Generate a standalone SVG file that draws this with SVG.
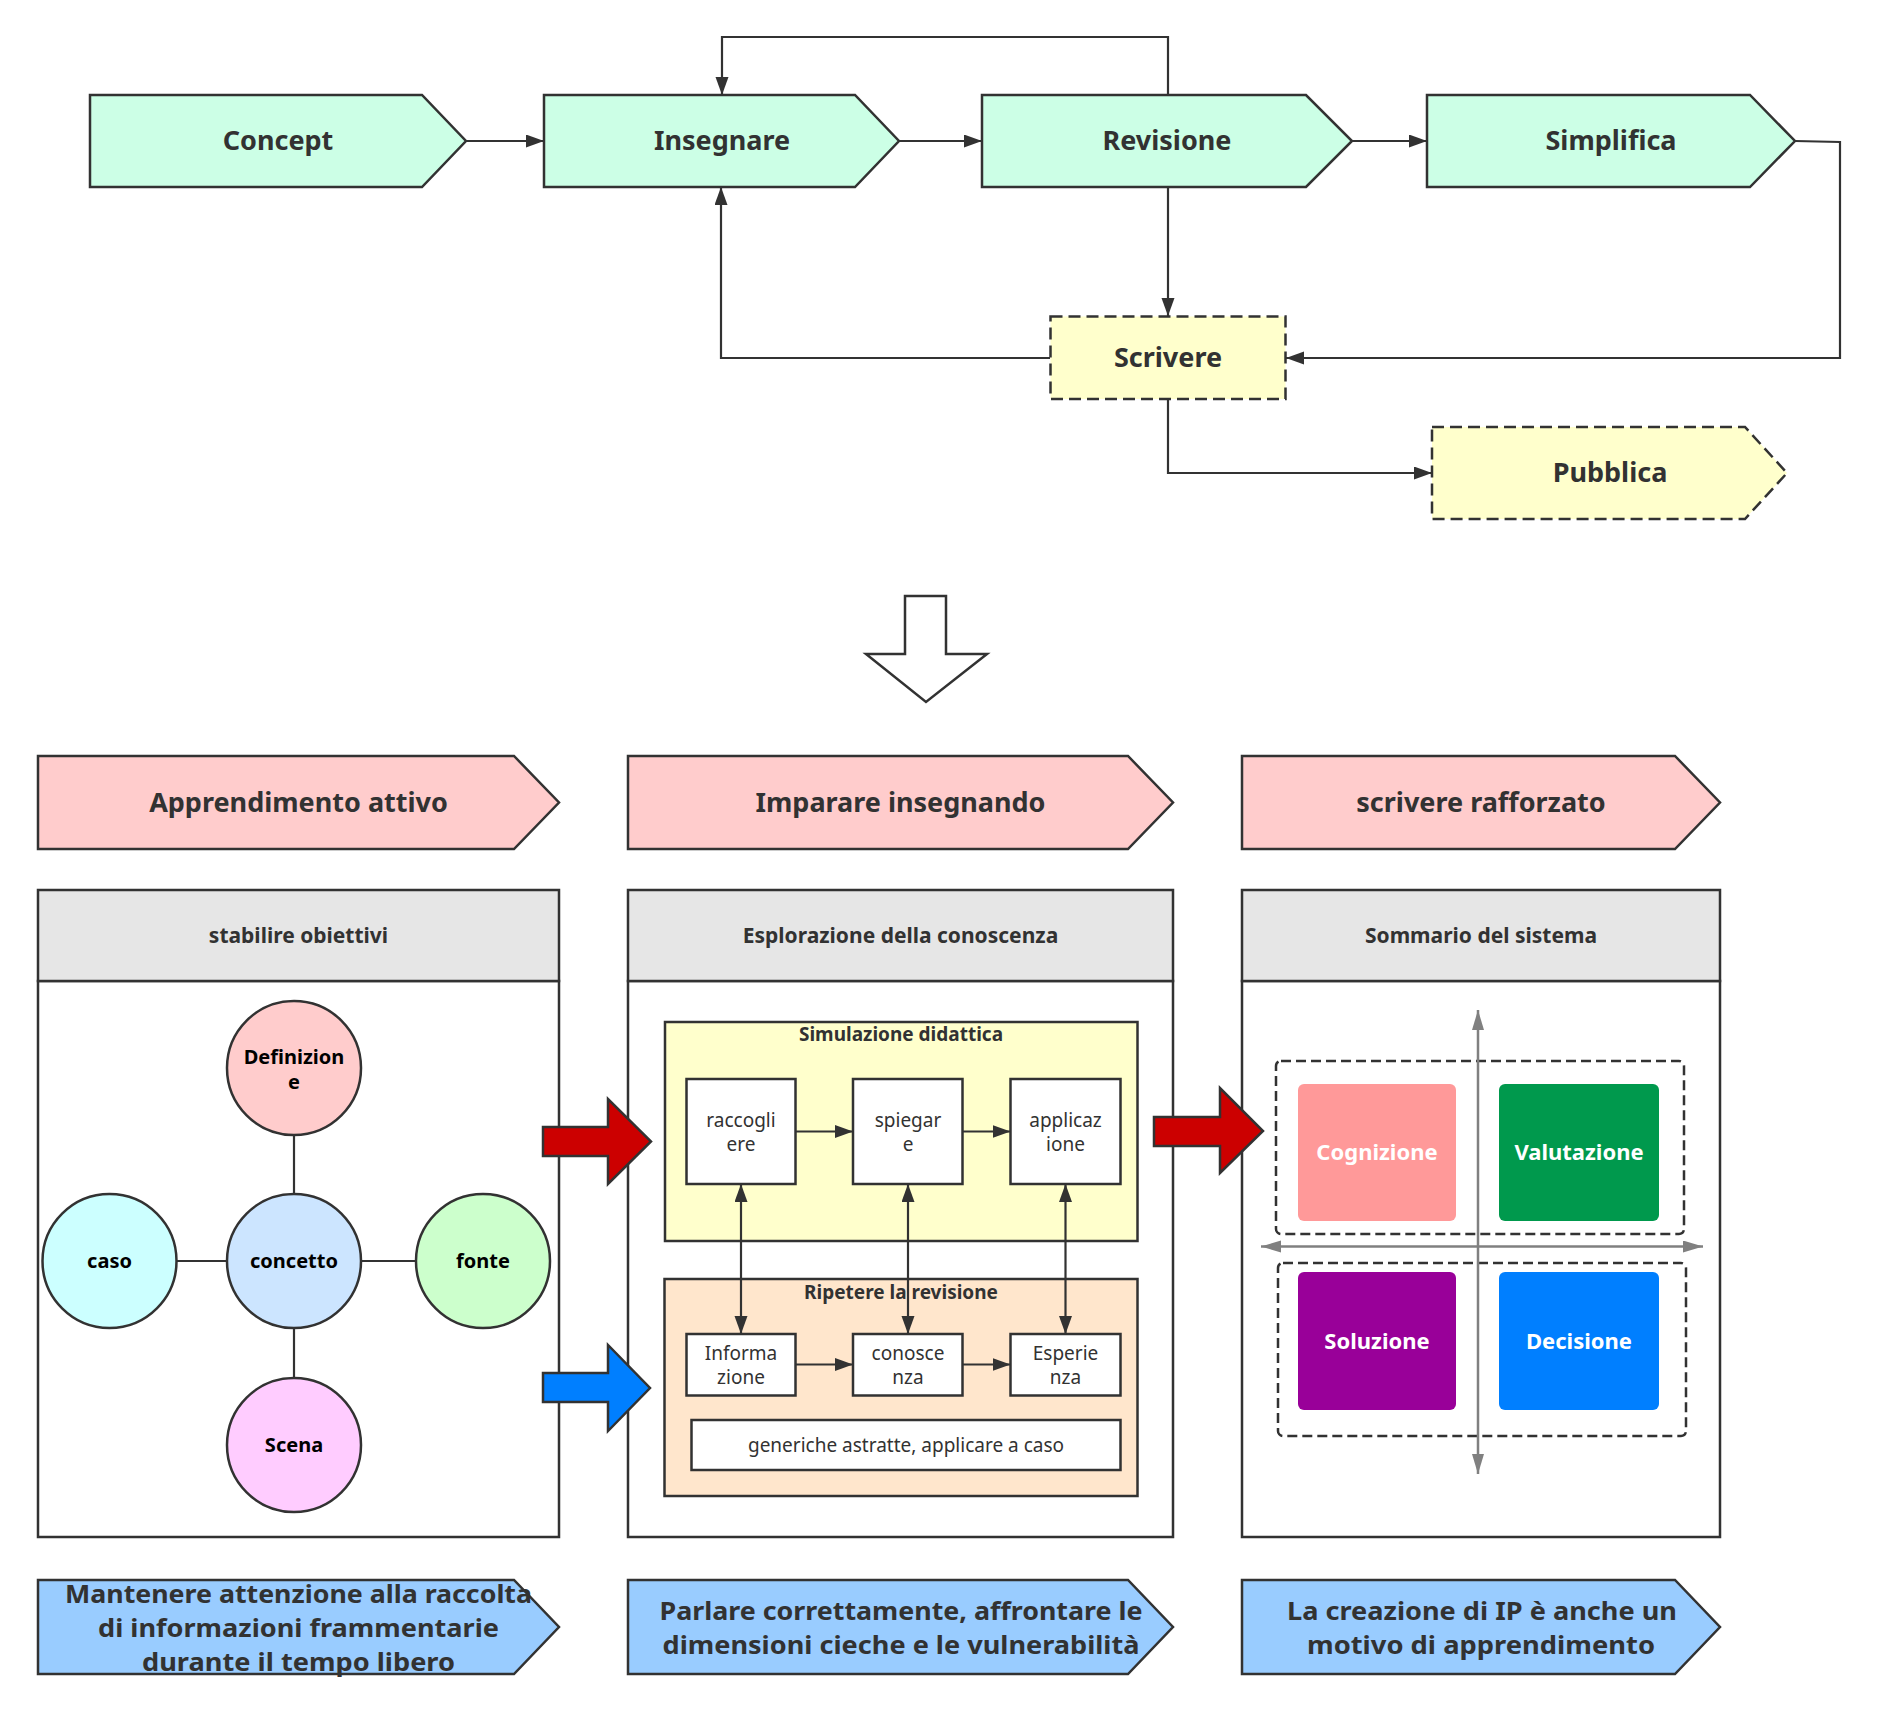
<svg xmlns="http://www.w3.org/2000/svg" width="1877" height="1715" viewBox="0 0 1877 1715">
<style>
text{font-family:"Noto Sans","Open Sans","Liberation Sans",sans-serif;text-anchor:middle;dominant-baseline:central;fill:#323232}
.b{font-weight:bold}
.shape{stroke:#323232;stroke-width:2.5}
.mint{fill:#CCFFE6}
.pink{fill:#FFCCCC}
.blue{fill:#99CCFF}
.yel{fill:#FFFFCC}
.dash{stroke-dasharray:12 6}
.qdash{fill:none;stroke:#323232;stroke-width:2.5;stroke-dasharray:10 5}
.t27{font-size:27px}
.t25{font-size:24.6px}
.t19{font-size:19px}
.t21{font-size:21px}
.t22{font-size:22px;fill:#fff;font-weight:bold}
.circ{font-size:20px;font-weight:bold;fill:#000}
.box{fill:#fff;stroke:#323232;stroke-width:2.5}
.con{fill:none;stroke:#323232;stroke-width:2.2}
.axis{fill:none;stroke:#808080;stroke-width:2.5}
</style>
<defs>
<marker id="ah" markerUnits="userSpaceOnUse" markerWidth="20" markerHeight="14" refX="18" refY="6.5" orient="auto-start-reverse">
<path d="M0,0 L18,6.5 L0,13 z" fill="#323232"/>
</marker>
<marker id="ga" markerUnits="userSpaceOnUse" markerWidth="22" markerHeight="14" refX="20" refY="6" orient="auto-start-reverse">
<path d="M0,0 L20,6 L0,12 z" fill="#808080"/>
</marker>
</defs>
<rect width="1877" height="1715" fill="#fff"/>

<!-- Top flow nodes -->
<g id="concept"><polygon class="shape mint" points="90,95 422,95 466,141 422,187 90,187"/><text class="b t27" x="278" y="139">Concept</text></g>
<g id="insegnare"><polygon class="shape mint" points="544,95 855,95 899,141 855,187 544,187"/><text class="b t27" x="722" y="139">Insegnare</text></g>
<g id="revisione"><polygon class="shape mint" points="982,95 1306,95 1352,141 1306,187 982,187"/><text class="b t27" x="1167" y="139">Revisione</text></g>
<g id="simplifica"><polygon class="shape mint" points="1427,95 1750,95 1795,141 1750,187 1427,187"/><text class="b t27" x="1611" y="139">Simplifica</text></g>
<g id="scrivere"><rect class="shape yel dash" x="1050.5" y="316.5" width="235" height="82.5"/><text class="b t27" x="1168" y="356">Scrivere</text></g>
<g id="pubblica"><polygon class="shape yel dash" points="1432,427 1745,427 1787,473 1745,519 1432,519"/><text class="b t27" x="1610" y="471">Pubblica</text></g>

<!-- Big hollow arrow -->
<g id="bigarrow"><polygon class="shape" fill="#fff" points="905,596 946,596 946,654 987,654 926,702 866,654 905,654"/></g>

<!-- Pink headers -->
<g id="h1"><polygon class="shape pink" points="38,756 514,756 559,802.5 514,849 38,849"/><text class="b t27" x="298.5" y="801">Apprendimento attivo</text></g>
<g id="h2"><polygon class="shape pink" points="628,756 1128,756 1173,802.5 1128,849 628,849"/><text class="b t27" x="900.5" y="801">Imparare insegnando</text></g>
<g id="h3"><polygon class="shape pink" points="1242,756 1675,756 1720,802.5 1675,849 1242,849"/><text class="b t27" x="1481" y="801">scrivere rafforzato</text></g>

<!-- Panels -->
<g id="p1"><rect class="shape" fill="#fff" x="38" y="981" width="521" height="556"/><rect class="shape" fill="#E6E6E6" x="38" y="890" width="521" height="91"/><text class="b t21" x="298.5" y="934.5">stabilire obiettivi</text></g>
<g id="p2"><rect class="shape" fill="#fff" x="628" y="981" width="545" height="556"/><rect class="shape" fill="#E6E6E6" x="628" y="890" width="545" height="91"/><text class="b t21" x="900.5" y="934.5">Esplorazione della conoscenza</text></g>
<g id="p3"><rect class="shape" fill="#fff" x="1242" y="981" width="478" height="556"/><rect class="shape" fill="#E6E6E6" x="1242" y="890" width="478" height="91"/><text class="b t21" x="1481" y="934.5">Sommario del sistema</text></g>

<!-- Panel 1 circles -->
<g id="links1">
<line class="con" x1="294" y1="1135" x2="294" y2="1194"/>
<line class="con" x1="177" y1="1261" x2="227" y2="1261"/>
<line class="con" x1="361" y1="1261" x2="416" y2="1261"/>
<line class="con" x1="294" y1="1328" x2="294" y2="1378"/>
</g>
<g id="definizione"><ellipse class="shape" fill="#FFCCCC" cx="294" cy="1068" rx="67" ry="67"/><text class="circ" x="294" y="1056">Definizion</text><text class="circ" x="294" y="1081">e</text></g>
<g id="caso"><ellipse class="shape" fill="#CCFFFF" cx="109.5" cy="1261" rx="67" ry="67"/><text class="circ" x="109.5" y="1260">caso</text></g>
<g id="concetto"><ellipse class="shape" fill="#CCE5FF" cx="294" cy="1261" rx="67" ry="67"/><text class="circ" x="294" y="1260">concetto</text></g>
<g id="fonte"><ellipse class="shape" fill="#CCFFCC" cx="483" cy="1261" rx="67" ry="67"/><text class="circ" x="483" y="1260">fonte</text></g>
<g id="scena"><ellipse class="shape" fill="#FFCCFF" cx="294" cy="1445" rx="67" ry="67"/><text class="circ" x="294" y="1444">Scena</text></g>

<!-- Panel 2 inner -->
<g id="simulazione"><rect class="shape" fill="#FFFFCC" x="665" y="1022" width="472.5" height="219"/><text class="b t19" x="901" y="1034">Simulazione didattica</text></g>
<g id="ripetere"><rect class="shape" fill="#FFE6CC" x="664.5" y="1279" width="473" height="217"/><text class="b t19" x="901" y="1292">Ripetere la revisione</text></g>
<g id="raccogliere"><rect class="box" x="686.5" y="1079" width="109" height="105"/><text class="t19" x="741" y="1120">raccogli</text><text class="t19" x="741" y="1144">ere</text></g>
<g id="spiegare"><rect class="box" x="853" y="1079" width="109.5" height="105"/><text class="t19" x="908" y="1120">spiegar</text><text class="t19" x="908" y="1144">e</text></g>
<g id="applicazione"><rect class="box" x="1010.5" y="1079" width="110" height="105"/><text class="t19" x="1065.5" y="1120">applicaz</text><text class="t19" x="1065.5" y="1144">ione</text></g>
<g id="informazione"><rect class="box" x="686.5" y="1334" width="109" height="61.5"/><text class="t19" x="741" y="1353">Informa</text><text class="t19" x="741" y="1377">zione</text></g>
<g id="conoscenza"><rect class="box" x="853" y="1334" width="109.5" height="61.5"/><text class="t19" x="908" y="1353">conosce</text><text class="t19" x="908" y="1377">nza</text></g>
<g id="esperienza"><rect class="box" x="1010.5" y="1334" width="110" height="61.5"/><text class="t19" x="1065.5" y="1353">Esperie</text><text class="t19" x="1065.5" y="1377">nza</text></g>
<g id="generiche"><rect class="box" x="691.5" y="1420" width="429" height="50"/><text class="t19" x="906" y="1445">generiche astratte, applicare a caso</text></g>

<!-- Panel 3 quadrant -->
<g id="q-top"><rect class="qdash" x="1276" y="1061" width="408" height="173" rx="5"/></g>
<g id="q-bottom"><rect class="qdash" x="1278" y="1263" width="408" height="173" rx="5"/></g>
<g id="cognizione"><rect fill="#FF9999" x="1298" y="1084" width="158" height="137" rx="6"/><text class="t22" x="1377" y="1151">Cognizione</text></g>
<g id="valutazione"><rect fill="#00994D" x="1499" y="1084" width="160" height="137" rx="6"/><text class="t22" x="1579" y="1151">Valutazione</text></g>
<g id="soluzione"><rect fill="#990099" x="1298" y="1272" width="158" height="138" rx="6"/><text class="t22" x="1377" y="1340">Soluzione</text></g>
<g id="decisione"><rect fill="#007FFF" x="1499" y="1272" width="160" height="138" rx="6"/><text class="t22" x="1579" y="1340">Decisione</text></g>
<g id="axes">
<line class="axis" x1="1478" y1="1474" x2="1478" y2="1010" marker-start="url(#ga)" marker-end="url(#ga)"/>
<line class="axis" x1="1261" y1="1246.5" x2="1703" y2="1246.5" marker-start="url(#ga)" marker-end="url(#ga)"/>
</g>

<!-- Block arrows -->
<g id="red1"><polygon class="shape" fill="#CC0000" points="543,1127 608,1127 608,1099 651,1141.5 608,1184 608,1156 543,1156"/></g>
<g id="blue1"><polygon class="shape" fill="#007FFF" points="543,1373 608,1373 608,1345 650,1388 608,1431 608,1402 543,1402"/></g>
<g id="red2"><polygon class="shape" fill="#CC0000" points="1154,1117 1220,1117 1220,1088 1263,1131 1220,1173 1220,1146 1154,1146"/></g>

<!-- Bottom blue chevrons -->
<g id="b1"><polygon class="shape blue" points="38,1580 514,1580 559,1627 514,1674 38,1674"/>
<text class="b t25" x="298.5" y="1593" textLength="467" lengthAdjust="spacingAndGlyphs">Mantenere attenzione alla raccolta</text>
<text class="b t25" x="298.5" y="1627" textLength="401" lengthAdjust="spacingAndGlyphs">di informazioni frammentarie</text>
<text class="b t25" x="298.5" y="1661" textLength="313" lengthAdjust="spacingAndGlyphs">durante il tempo libero</text></g>
<g id="b2"><polygon class="shape blue" points="628,1580 1128,1580 1173,1627 1128,1674 628,1674"/>
<text class="b t25" x="901" y="1610" textLength="483" lengthAdjust="spacingAndGlyphs">Parlare correttamente, affrontare le</text>
<text class="b t25" x="901" y="1644" textLength="477" lengthAdjust="spacingAndGlyphs">dimensioni cieche e le vulnerabilità</text></g>
<g id="b3"><polygon class="shape blue" points="1242,1580 1675,1580 1720,1627 1675,1674 1242,1674"/>
<text class="b t25" x="1482" y="1610" textLength="390" lengthAdjust="spacingAndGlyphs">La creazione di IP è anche un</text>
<text class="b t25" x="1481" y="1644" textLength="348" lengthAdjust="spacingAndGlyphs">motivo di apprendimento</text></g>

<!-- Connectors -->
<g id="connectors">
<path class="con" d="M466,141 L544,141" marker-end="url(#ah)"/>
<path class="con" d="M899,141 L982,141" marker-end="url(#ah)"/>
<path class="con" d="M1352,141 L1427,141" marker-end="url(#ah)"/>
<path class="con" d="M1168,95 L1168,37 L722,37 L722,95" marker-end="url(#ah)"/>
<path class="con" d="M1168,187 L1168,316" marker-end="url(#ah)"/>
<path class="con" d="M1050,358 L721,358 L721,187" marker-end="url(#ah)"/>
<path class="con" d="M1795,141 L1840,142 L1840,358 L1286,358" marker-end="url(#ah)"/>
<path class="con" d="M1168,399 L1168,473 L1432,473" marker-end="url(#ah)"/>
<path class="con" d="M795.5,1131.5 L853,1131.5" marker-end="url(#ah)"/>
<path class="con" d="M962.5,1131.5 L1010.5,1131.5" marker-end="url(#ah)"/>
<path class="con" d="M795.5,1364.5 L853,1364.5" marker-end="url(#ah)"/>
<path class="con" d="M962.5,1364.5 L1010.5,1364.5" marker-end="url(#ah)"/>
<path class="con" d="M741,1184 L741,1334" marker-start="url(#ah)" marker-end="url(#ah)"/>
<path class="con" d="M908,1184 L908,1334" marker-start="url(#ah)" marker-end="url(#ah)"/>
<path class="con" d="M1065.5,1184 L1065.5,1334" marker-start="url(#ah)" marker-end="url(#ah)"/>
</g>
</svg>
